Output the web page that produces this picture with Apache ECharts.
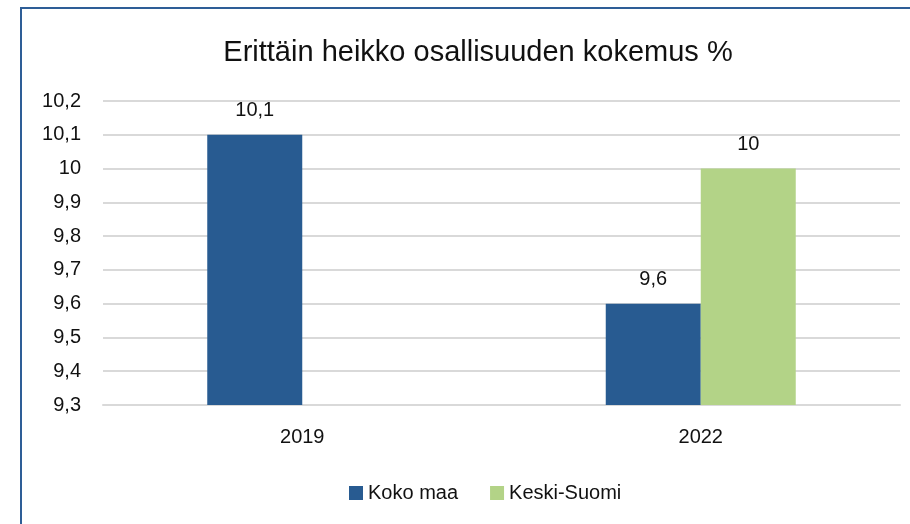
<!DOCTYPE html>
<html>
<head>
<meta charset="utf-8">
<script src="https://cdn.jsdelivr.net/npm/echarts@6/dist/echarts.min.js"></script>
<style>
  html, body { margin: 0; padding: 0; background: #fff; }
  #main { width: 910px; height: 524px; }
</style>
</head>
<body>
<div id="main"></div>
<script>
var years = ['2019', '2022'];
var kokoMaa = [10.1, 9.6];
var keskiSuomi = [null, 10];
var seriesNames = ['Koko maa', 'Keski-Suomi'];

function fi(v) {
  return String(Math.round(v * 10) / 10).replace('.', ',');
}

var myChart = echarts.init(document.getElementById('main'));
var font = 'Liberation Sans';

var labelStyle = {
  show: true,
  position: 'top',
  distance: 14,
  color: '#111',
  fontFamily: font,
  fontSize: 20,
  formatter: function (p) { return fi(p.value); }
};

var option = {
  backgroundColor: '#fff',
  animation: false,
  graphic: [{
    type: 'rect',
    shape: { x: 21, y: 8, width: 1000, height: 1000 },
    style: { fill: 'none', stroke: '#2e5e97', lineWidth: 2 }
  }],
  title: {
    text: 'Erittäin heikko osallisuuden kokemus %',
    left: 473,
    textAlign: 'center',
    top: 33,
    textStyle: { fontFamily: font, fontSize: 29, fontWeight: 'normal', color: '#111' }
  },
  legend: {
    data: seriesNames,
    bottom: 16,
    left: 344,
    itemWidth: 14,
    itemHeight: 14,
    itemGap: 32,
    icon: 'rect',
    textStyle: { fontFamily: font, fontSize: 20, color: '#111' }
  },
  grid: { left: 103, right: 10, top: 101, bottom: 119, containLabel: false },
  xAxis: {
    type: 'category',
    data: years,
    axisLine: { lineStyle: { color: '#d9d9d9', width: 2 } },
    axisTick: { show: false },
    axisLabel: { color: '#111', fontFamily: font, fontSize: 20, margin: 22 }
  },
  yAxis: {
    type: 'value',
    min: 9.3,
    max: 10.2,
    interval: 0.1,
    axisLine: { show: false },
    axisTick: { show: false },
    splitLine: { lineStyle: { color: '#d9d9d9', width: 2 } },
    axisLabel: {
      color: '#111', fontFamily: font, fontSize: 20, margin: 22,
      formatter: function (v) { return fi(v); }
    }
  },
  series: [{
    name: seriesNames[0],
    type: 'bar',
    data: kokoMaa,
    barWidth: 95,
    barGap: '0%',
    itemStyle: { color: '#285b91' },
    label: labelStyle
  }, {
    name: seriesNames[1],
    type: 'bar',
    data: keskiSuomi,
    barWidth: 95,
    itemStyle: { color: '#b3d387' },
    label: labelStyle
  }]
};

myChart.setOption(option);
</script>
</body>
</html>
